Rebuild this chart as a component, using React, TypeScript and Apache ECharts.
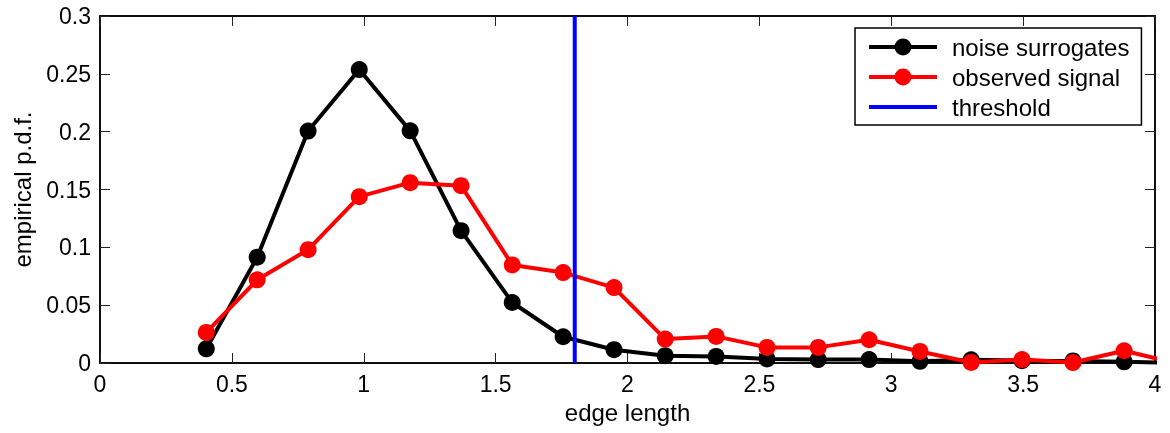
import React, { useEffect, useRef } from "react";
import * as echarts from "echarts";

const binCenters = [0.403, 0.596, 0.789, 0.983, 1.176, 1.369, 1.563, 1.756, 1.949, 2.143, 2.336, 2.529, 2.723, 2.916, 3.109, 3.303, 3.496, 3.689, 3.883, 4.076];
const noiseSurrogates = [0.0123, 0.0915, 0.2005, 0.2537, 0.2007, 0.1144, 0.0523, 0.0227, 0.0115, 0.0063, 0.0057, 0.0035, 0.003, 0.003, 0.0015, 0.0028, 0.002, 0.0018, 0.001, 0.0];
const observedSignal = [0.0264, 0.0719, 0.098, 0.1438, 0.1559, 0.1533, 0.0848, 0.0782, 0.0652, 0.0207, 0.023, 0.0135, 0.0135, 0.0201, 0.01, 0.0005, 0.003, 0.0004, 0.0106, 0.0];
const thresholdX = 1.8;
const xRange = [0, 4];
const yRange = [0, 0.3];
const seriesNames = ["noise surrogates", "observed signal", "threshold"];

const FONT = "'Liberation Sans', Arial, Helvetica, sans-serif";
const ICON_LINE_MARKER =
  "path://M0,6.5 H68 V10.5 H0 Z M25.5,8.5 A8.5,8.5 0 1 1 42.5,8.5 A8.5,8.5 0 1 1 25.5,8.5 Z";
const ICON_LINE = "path://M0,0 H68 V4 H0 Z";

export default function App() {
  const ref = useRef<HTMLDivElement>(null);
  useEffect(() => {
    if (!ref.current) return;
    const chart = echarts.init(ref.current, null, { renderer: "svg" });
    const mkLine = () => ({ show: true, onZero: false, lineStyle: { color: "#000", width: 1.5 } });
    const mkTick = () => ({ show: true, inside: true, length: 10, lineStyle: { color: "#222", width: 1 } });
    const mkLabel = (show: boolean) =>
      show
        ? { fontSize: 23, color: "#000", margin: 9, fontFamily: FONT }
        : { show: true, formatter: () => "", color: "rgba(0,0,0,0)" };
    const zip = (xs: number[], ys: number[]) => xs.map((x, i) => [x, ys[i]]);
    chart.setOption({
      animation: false,
      grid: { left: 100, right: 15, top: 16, bottom: 70, show: true, borderColor: "#000", borderWidth: 1.5 },
      xAxis: [
        {
          type: "value",
          min: xRange[0],
          max: xRange[1],
          interval: 0.5,
          position: "bottom",
          splitLine: { show: false },
          axisLine: mkLine(),
          axisTick: mkTick(),
          axisLabel: mkLabel(true),
          name: "edge length",
          nameLocation: "middle",
          nameGap: 37,
          nameTextStyle: { fontSize: 24, color: "#000", fontFamily: FONT },
        },
        {
          type: "value",
          min: xRange[0],
          max: xRange[1],
          interval: 0.5,
          position: "top",
          splitLine: { show: false },
          axisLine: mkLine(),
          axisTick: mkTick(),
          axisLabel: mkLabel(false),
        },
      ],
      yAxis: [
        {
          type: "value",
          min: yRange[0],
          max: yRange[1],
          interval: 0.05,
          position: "left",
          splitLine: { show: false },
          axisLine: mkLine(),
          axisTick: mkTick(),
          axisLabel: mkLabel(true),
          name: "empirical p.d.f.",
          nameLocation: "middle",
          nameGap: 66,
          nameTextStyle: { fontSize: 24, color: "#000", fontFamily: FONT },
        },
        {
          type: "value",
          min: yRange[0],
          max: yRange[1],
          interval: 0.05,
          position: "right",
          splitLine: { show: false },
          axisLine: mkLine(),
          axisTick: mkTick(),
          axisLabel: mkLabel(false),
        },
      ],
      legend: {
        orient: "vertical",
        left: 855,
        top: 28,
        padding: [7, 12, 6, 14],
        itemWidth: 68,
        itemHeight: 17,
        itemGap: 6,
        backgroundColor: "#fff",
        borderColor: "#000",
        borderWidth: 1.5,
        borderRadius: 0,
        textStyle: { fontSize: 24, color: "#000", fontFamily: FONT, padding: [0, 0, 0, 10] },
        data: [
          { name: seriesNames[0], icon: ICON_LINE_MARKER, itemStyle: { color: "#000" } },
          { name: seriesNames[1], icon: ICON_LINE_MARKER, itemStyle: { color: "#ff0000" } },
          { name: seriesNames[2], icon: ICON_LINE, itemStyle: { color: "#0000ff" } },
        ],
      },
      series: [
        {
          name: seriesNames[0],
          type: "line",
          data: zip(binCenters, noiseSurrogates),
          symbol: "circle",
          symbolSize: 17,
          itemStyle: { color: "#000" },
          lineStyle: { color: "#000", width: 4 },
          z: 2,
        },
        {
          name: seriesNames[1],
          type: "line",
          data: zip(binCenters, observedSignal),
          symbol: "circle",
          symbolSize: 17,
          itemStyle: { color: "#ff0000" },
          lineStyle: { color: "#ff0000", width: 4 },
          z: 3,
        },
        {
          name: seriesNames[2],
          type: "line",
          xAxisIndex: 1,
          yAxisIndex: 1,
          data: [[thresholdX, yRange[0]], [thresholdX, yRange[1]]],
          symbol: "none",
          itemStyle: { color: "#0000ff" },
          lineStyle: { color: "#0000ff", width: 4 },
          z: 4,
        },
      ],
    });
    return () => chart.dispose();
  }, []);
  return <div ref={ref} style={{ position: "fixed", left: 0, top: 0, width: 1170, height: 433 }} />;
}
